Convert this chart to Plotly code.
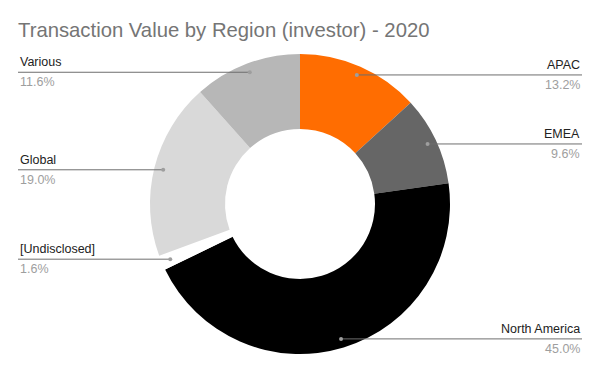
import math
import plotly.graph_objects as go

title = "Transaction Value by Region (investor) - 2020"
regions = ["APAC", "EMEA", "North America", "[Undisclosed]", "Global", "Various"]
values = [13.2, 9.6, 45.0, 1.6, 19.0, 11.6]
colors = ["#ff6d01", "#666666", "#000000", "#ffffff", "#d9d9d9", "#b7b7b7"]

W, H = 600, 371
OFF = 8  # browser default body margin
CX, CY, R = 300 - OFF, 204 - OFF, 150  # pie centre/radius in pixels
DOT_R = 141
LEFT_X, RIGHT_X = 18 - OFF, 582 - OFF
FONT = "Arial, Liberation Sans, sans-serif"


def px(x):
    return x / W


def py(y):
    return 1 - y / H


fig = go.Figure(go.Pie(
    labels=regions,
    values=values,
    marker=dict(colors=colors, line=dict(width=0)),
    hole=0.5,
    sort=False,
    direction="clockwise",
    rotation=0,
    textinfo="none",
    hoverinfo="label+percent",
    showlegend=False,
    domain=dict(x=[px(CX - R), px(CX + R)], y=[py(CY + R), py(CY - R)]),
))

total = sum(values)
cum = 0.0
shapes = []
annotations = []
for name, v in zip(regions, values):
    mid = (cum + v / 2) / total * 2 * math.pi
    cum += v
    dx = CX + DOT_R * math.sin(mid)
    dy = CY - DOT_R * math.cos(mid)
    right = math.sin(mid) > 0
    end_x = RIGHT_X if right else LEFT_X
    shapes.append(dict(type="line", xref="paper", yref="paper",
                       x0=px(dx), y0=py(dy), x1=px(end_x), y1=py(dy),
                       line=dict(color="#6e6e6e", width=1)))
    shapes.append(dict(type="circle", xref="paper", yref="paper",
                       x0=px(dx - 2), x1=px(dx + 2), y0=py(dy + 2), y1=py(dy - 2),
                       fillcolor="#9e9e9e", line=dict(width=0)))
    anchor = "right" if right else "left"
    annotations.append(dict(text=name, xref="paper", yref="paper",
                            x=px(end_x), y=py(dy - 1), xanchor=anchor, yanchor="bottom",
                            showarrow=False, font=dict(family=FONT, size=12.5, color="#222222")))
    annotations.append(dict(text=f"{v / total * 100:.1f}%", xref="paper", yref="paper",
                            x=px(end_x), y=py(dy + 1), xanchor=anchor, yanchor="top",
                            showarrow=False, font=dict(family=FONT, size=12.5, color="#9e9e9e")))

fig.update_layout(
    width=W, height=H,
    margin=dict(l=0, r=0, t=0, b=0),
    paper_bgcolor="white", plot_bgcolor="white",
    title=dict(text=title, x=px(18 - OFF), xanchor="left", y=py(30 - OFF), yanchor="middle",
               xref="paper", yref="paper",
               font=dict(family=FONT, size=20.3, color="#757575")),
    shapes=shapes,
    annotations=annotations,
)

fig.write_html("out.html")
